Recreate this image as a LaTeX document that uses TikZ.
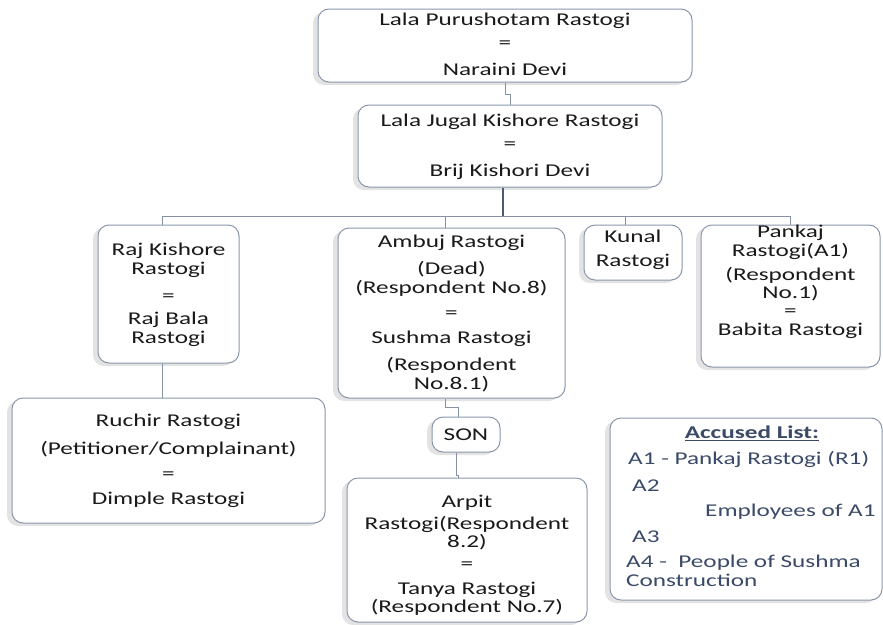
\documentclass[tikz,border=0pt]{standalone}
\usepackage{fontspec}
\setmainfont[FakeStretch=1.4]{Carlito}
\usetikzlibrary{shadows}
\definecolor{boxline}{HTML}{8A97AB}
\definecolor{connc}{HTML}{8592A6}
\definecolor{trunkc}{HTML}{4D5A70}
\definecolor{acctext}{HTML}{3B4A68}
\definecolor{txtc}{HTML}{1A1A1A}
\tikzset{
  famBox/.style={draw=boxline, line width=1pt, rounded corners=11pt, fill=white,
    drop shadow={shadow xshift=-5pt, shadow yshift=-3pt, fill=black, opacity=0.11}, inner sep=0pt},
  famText/.style={font=\fontsize{18}{19}\selectfont, text=txtc, align=center, inner sep=0pt, anchor=north},
  accText/.style={font=\fontsize{18}{19}\selectfont, text=acctext, inner sep=0pt, anchor=base west},
  link/.style={draw=connc, line width=0.9pt},
  trunkline/.style={draw=trunkc, line width=1.3pt},
}
\begin{document}
\begin{tikzpicture}[x=1pt,y=-1pt]
\path[use as bounding box, fill=white] (0,0) rectangle (883,624);

% boxes
\node[famBox, minimum width=374pt, minimum height=73pt] (b1) at (505,45.5) {};
\node[famBox, minimum width=304pt, minimum height=82pt] (b2) at (510,146) {};
\node[famBox, minimum width=141pt, minimum height=138pt] (raj) at (168.5,294) {};
\node[famBox, minimum width=227pt, minimum height=170pt] (amb) at (451.5,313) {};
\node[famBox, minimum width=98pt, minimum height=55pt] (kun) at (633,252.5) {};
\node[famBox, minimum width=179pt, minimum height=142pt] (pan) at (790.5,296) {};
\node[famBox, minimum width=313pt, minimum height=125pt] (ruc) at (168.5,460.5) {};
\node[famBox, minimum width=68pt, minimum height=35pt] (son) at (466,434.5) {};
\node[famBox, minimum width=240pt, minimum height=144pt] (arp) at (467,550) {};
\node[famBox, minimum width=272pt, minimum height=182pt] (acc) at (746,509) {};

% texts
\node[famText] (tb1) at (505,12.5) {Lala Purushotam Rastogi\\[4pt]=\\[8pt]Naraini Devi};
\node[famText] (tb2) at (510,114) {Lala Jugal Kishore Rastogi\\[4pt]=\\[8pt]Brij Kishori Devi};
\node[famText] (traj) at (168.5,242.5) {Raj Kishore\\Rastogi\\[8pt]=\\[4pt]Raj Bala\\Rastogi};
\node[famText] (tamb) at (451.5,235) {Ambuj Rastogi\\[8pt](Dead)\\(Respondent No.8)\\[6pt]=\\[6pt]Sushma Rastogi\\[8pt](Respondent\\No.8.1)};
\node[famText] (tkun) at (633,230) {Kunal\\[5pt]Rastogi};
\node[famText] (tpan) at (790.5,225) {Pankaj\\Rastogi(A1)\\[5pt](Respondent\\[-1pt]No.1)\\[-1pt]=\\Babita Rastogi};
\node[famText] (truc) at (168.5,414) {Ruchir Rastogi\\[9pt](Petitioner/Complainant)\\[6pt]=\\[6pt]Dimple Rastogi};
\node[famText, anchor=center] (tson) at (466,434.5) {SON};
\node[famText] (tarp) at (467,495) {Arpit\\[3pt]Rastogi(Respondent\\[-1pt]8.2)\\[3pt]=\\[6pt]Tanya Rastogi\\[-1pt](Respondent No.7)};

% accused list
\node[font=\fontsize{18}{19}\selectfont, text=acctext, inner sep=0pt] (acct) at (752,433) {\underline{\textbf{Accused List:}}};
\node[accText] (a1) at (628,464.5) {A1 - Pankaj Rastogi (R1)};
\node[accText] (a2) at (632,491.5) {A2};
\node[accText] (a2e) at (705,516.5) {Employees of A1};
\node[accText] (a3) at (632,542.5) {A3};
\node[accText] (a4) at (626,567.5) {A4 -~ People of Sushma};
\node[accText] (a4c) at (626,586.5) {Construction};

% connectors
\draw[link] (b1.south) -- ++(0,12) -| (b2.north);
\coordinate (bus) at (503,216);
\draw[link] (bus) -| ([xshift=-6pt]raj.north);
\draw[link] (bus) -| ([xshift=-6pt]amb.north);
\draw[link] (bus) -| ([xshift=-8pt]kun.north);
\draw[link] (bus) -| (pan.north);
\draw[trunkline] ([xshift=-7pt]b2.south) -- (bus);
\draw[link] ([xshift=-6pt]raj.south) -- ([xshift=-6pt]ruc.north);
\draw[link] ([xshift=-6pt]amb.south) -- ++(0,9) -| ([xshift=-8pt]son.north);
\draw[link] ([xshift=-10pt]son.south) -- ++(0,23) -| ([xshift=-9pt]arp.north);
\end{tikzpicture}
\end{document}
